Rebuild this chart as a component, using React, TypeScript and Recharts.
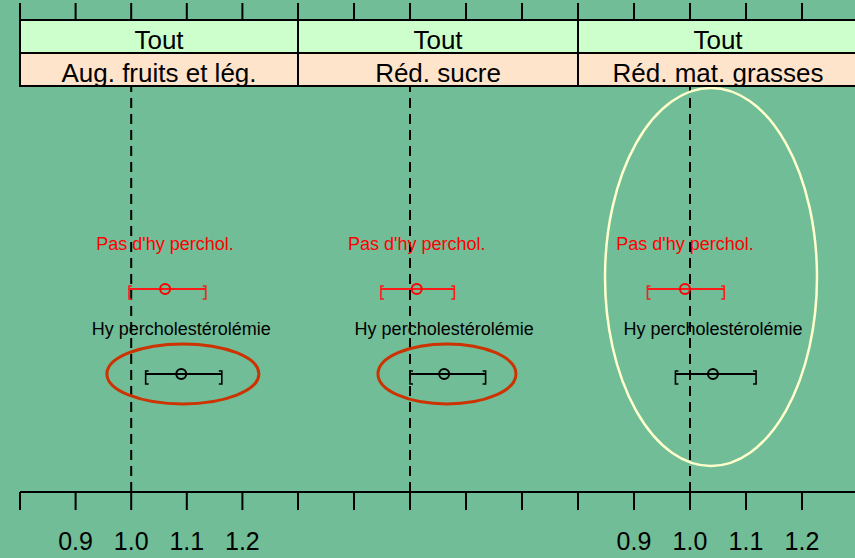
import React from 'react';
import { ScatterChart, Scatter, XAxis, YAxis, ReferenceLine, ReferenceDot } from 'recharts';

const stripTop = 'Tout';
const panelNames = ['Aug. fruits et lég.', 'Réd. sucre', 'Réd. mat. grasses'];
const groupNames = ["Pas d'hy perchol.", 'Hy percholestérolémie'];
const groupRows = [2, 1];

const estRed = [1.061, 1.012, 0.991];
const loRed = [0.996, 0.948, 0.924];
const hiRed = [1.134, 1.079, 1.061];
const estBlack = [1.09, 1.061, 1.041];
const loBlack = [1.026, 1.0, 0.974];
const hiBlack = [1.163, 1.135, 1.118];

const xTicks = [0.8, 0.9, 1.0, 1.1, 1.2, 1.3];
const xLabelled = [0.9, 1.0, 1.1, 1.2];
const showBottomLabels = [true, false, true];

// highlight ellipses: centre (x value, y row), radii
const ellX = [1.093, 1.066, 1.0375];
const ellY = [1, 1, 2.142];
const ellRx = [76, 69, 106];
const ellRy = [30, 30, 189];
const ellColor = ['#cc3300', '#cc3300', '#ffffcc'];

const FONT = '"Liberation Sans", Arial, sans-serif';
const BG = '#70bd97';
const PANEL_LEFT = [20, 298, 578];
const PANEL_W = [278, 280, 280];
const RED = '#ff1a1a';

const PointShape = (props: any) => {
  const { cx, cy, payload } = props;
  return (
    <g>
      <circle cx={cx} cy={cy} r={5} fill="none" stroke={payload.color} strokeWidth={2} />
      <text x={cx} y={cy - 39} textAnchor="middle" fontSize={18} fontFamily={FONT} fill={payload.color}>
        {payload.label}
      </text>
    </g>
  );
};

const makeBracket = (color: string) => (props: any) => {
  const { cx, cy, payload } = props;
  const s = payload.end === 'lo' ? 1 : -1;
  const d = `M${cx + 3 * s},${cy - 3} L${cx},${cy - 3} L${cx},${cy + 10} L${cx + 3 * s},${cy + 10}`;
  return <path d={d} fill="none" stroke={color} strokeWidth={1.6} />;
};

const makeEllipse = (i: number) => (props: any) => {
  const { cx, cy } = props;
  return <ellipse cx={cx} cy={cy} rx={ellRx[i]} ry={ellRy[i]} fill="none" stroke={ellColor[i]} strokeWidth={i === 2 ? 2.5 : 3} />;
};

function Panel({ i }: { i: number }) {
  const w = PANEL_W[i];
  const colors = ['#ff0000', '#000000'];
  const ests = [estRed[i], estBlack[i]];
  const los = [loRed[i], loBlack[i]];
  const his = [hiRed[i], hiBlack[i]];
  const points = groupNames.map((g, k) => ({ x: ests[k], y: groupRows[k], label: g, color: colors[k] }));
  const intervals = groupNames.map((g, k) => [
    { x: los[k], y: groupRows[k], end: 'lo' },
    { x: his[k], y: groupRows[k], end: 'hi' },
  ]);
  const lineColors = [RED, '#000000'];
  const bottomFmt = (v: number) =>
    showBottomLabels[i] && xLabelled.some((t) => Math.abs(t - v) < 1e-6) ? v.toFixed(1) : '';
  return (
    <div style={{ position: 'absolute', left: PANEL_LEFT[i] - 2, top: 0 }}>
      <ScatterChart width={w + 4} height={558} margin={{ top: 0, right: 2, bottom: 0, left: 2 }}>
        <XAxis
          xAxisId="b"
          type="number"
          dataKey="x"
          domain={[0.8, 1.3]}
          ticks={xTicks}
          orientation="bottom"
          height={66}
          tickSize={18}
          tickMargin={22}
          tickFormatter={bottomFmt}
          axisLine={{ stroke: '#000', strokeWidth: 2 }}
          tickLine={{ stroke: '#000', strokeWidth: 2 }}
          tick={{ fontSize: 25, fill: '#000', fontFamily: FONT }}
          interval={0}
          allowDataOverflow
        />
        <XAxis
          xAxisId="t"
          type="number"
          dataKey="x"
          domain={[0.8, 1.3]}
          ticks={xTicks}
          orientation="top"
          height={86}
          tickSize={83}
          tickFormatter={() => ''}
          axisLine={{ stroke: '#000', strokeWidth: 2 }}
          tickLine={{ stroke: '#000', strokeWidth: 2 }}
          interval={0}
          allowDataOverflow
        />
        <YAxis
          yAxisId="l"
          type="number"
          dataKey="y"
          domain={[-0.39, 4.39]}
          width={0}
          tick={false}
          tickLine={false}
          axisLine={{ stroke: '#000', strokeWidth: 2 }}
          allowDataOverflow
        />
        <YAxis
          yAxisId="r"
          orientation="right"
          type="number"
          dataKey="y"
          domain={[-0.39, 4.39]}
          width={0}
          tick={false}
          tickLine={false}
          axisLine={{ stroke: '#000', strokeWidth: 2 }}
          allowDataOverflow
        />
        <ReferenceLine xAxisId="b" yAxisId="l" x={1} stroke="#000" strokeWidth={2} strokeDasharray="10 6" />
        {intervals.map((d, k) => (
          <Scatter
            key={'iv' + k}
            xAxisId="b"
            yAxisId="l"
            data={d}
            line={{ stroke: lineColors[k], strokeWidth: 2 }}
            shape={makeBracket(lineColors[k])}
            isAnimationActive={false}
          />
        ))}
        <Scatter xAxisId="b" yAxisId="l" data={points} shape={PointShape} isAnimationActive={false} />
        <ReferenceDot xAxisId="b" yAxisId="l" x={ellX[i]} y={ellY[i]} shape={makeEllipse(i)} />
      </ScatterChart>
    </div>
  );
}

function Strips() {
  return (
    <svg width={855} height={558} style={{ position: 'absolute', left: 0, top: 0, pointerEvents: 'none' }}>
      {panelNames.map((name, i) => {
        const x = PANEL_LEFT[i];
        const w = PANEL_W[i];
        return (
          <g key={name}>
            <rect x={x} y={20} width={w} height={33} fill="#ccffcc" stroke="#000" strokeWidth={2} />
            <rect x={x} y={53} width={w} height={33} fill="#ffe4cc" stroke="#000" strokeWidth={2} />
            <text x={x + w / 2} y={49} textAnchor="middle" fontSize={26} fontFamily={FONT} fill="#000">
              {stripTop}
            </text>
            <text x={x + w / 2} y={82} textAnchor="middle" fontSize={26} fontFamily={FONT} fill="#000">
              {name}
            </text>
          </g>
        );
      })}
    </svg>
  );
}

export default function App() {
  return (
    <div
      style={{
        position: 'absolute',
        left: 0,
        top: 0,
        width: 855,
        height: 558,
        overflow: 'hidden',
        background: BG,
        fontFamily: FONT,
      }}
    >
      {[0, 1, 2].map((i) => (
        <Panel key={i} i={i} />
      ))}
      <Strips />
    </div>
  );
}
